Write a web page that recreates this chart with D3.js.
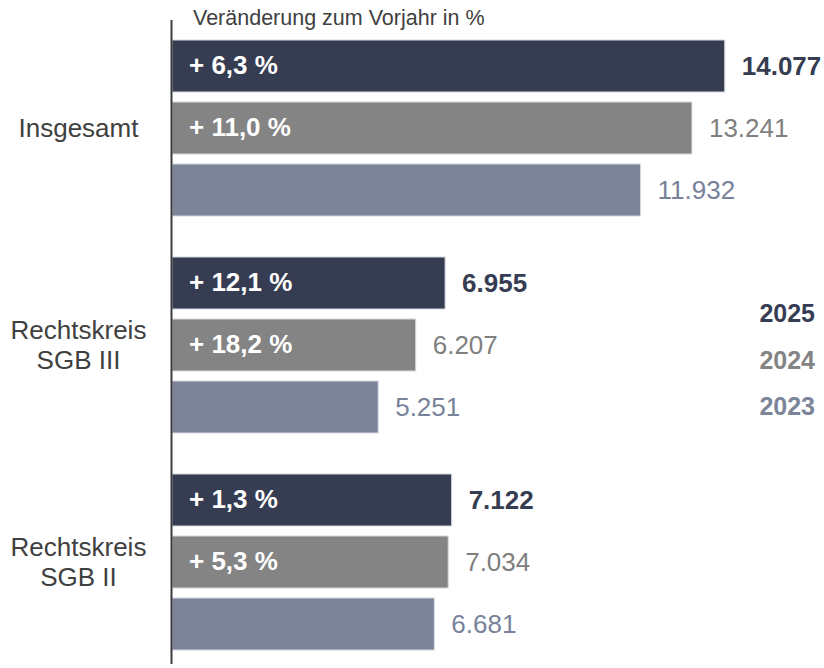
<!DOCTYPE html>
<html>
<head>
<meta charset="utf-8">
<script src="https://cdn.jsdelivr.net/npm/d3@7"></script>
<style>
  html, body { margin: 0; padding: 0; background: #ffffff; }
  svg { display: block; font-family: "Liberation Sans", Arial, sans-serif; }
</style>
</head>
<body>
<svg id="chart" width="824" height="668"></svg>
<script>
// ---- data ----
const categories = ["Insgesamt", "Rechtskreis SGB III", "Rechtskreis SGB II"];
const categoryLines = [["Insgesamt"], ["Rechtskreis", "SGB III"], ["Rechtskreis", "SGB II"]];
const years = ["2025", "2024", "2023"];
const values2025 = [14077, 6955, 7122];
const values2024 = [13241, 6207, 7034];
const values2023 = [11932, 5251, 6681];
const change2025 = ["+ 6,3 %", "+ 12,1 %", "+ 1,3 %"];
const change2024 = ["+ 11,0 %", "+ 18,2 %", "+ 5,3 %"];
const titleText = "Veränderung zum Vorjahr in %";

const seriesValues = { "2025": values2025, "2024": values2024, "2023": values2023 };
const seriesChange = { "2025": change2025, "2024": change2024, "2023": null };
const barColor = { "2025": "#363d52", "2024": "#848484", "2023": "#7b8498" };
const valueColor = { "2025": "#363d52", "2024": "#7f7f7f", "2023": "#78829a" };
const valueWeight = { "2025": "bold", "2024": "normal", "2023": "normal" };

const rows = [];
categories.forEach((c, i) => {
  years.forEach(y => {
    rows.push({ cat: c, year: y, value: seriesValues[y][i], change: seriesChange[y] ? seriesChange[y][i] : null });
  });
});

const de = d3.formatLocale({ decimal: ",", thousands: ".", grouping: [3], currency: ["", " €"] });
const fmt = de.format(",d");

const svg = d3.select("#chart");
const axisX = 171.5;

const x = d3.scaleLinear().domain([0, 15000]).range([172, 761]);
const yGroup = d3.scaleBand().domain(categories).range([40, 650]).paddingInner(41 / 217).paddingOuter(0);
const yInner = d3.scaleBand().domain(years).range([0, yGroup.bandwidth()]).paddingInner(10 / 62).paddingOuter(0);

// title
svg.append("text")
  .attr("x", 193).attr("y", 25)
  .attr("font-size", "21.5px").attr("fill", "#404040")
  .text(titleText);

// bars
const g = svg.append("g");
g.selectAll("rect.bar").data(rows).join("rect")
  .attr("class", "bar")
  .attr("x", x(0))
  .attr("y", d => yGroup(d.cat) + yInner(d.year))
  .attr("width", d => x(d.value) - x(0))
  .attr("height", yInner.bandwidth())
  .attr("fill", d => barColor[d.year])
  .attr("stroke", "#d6d9df").attr("stroke-width", 1);

// change labels inside bars
g.selectAll("text.chg").data(rows.filter(d => d.change)).join("text")
  .attr("class", "chg")
  .attr("x", 189)
  .attr("y", d => yGroup(d.cat) + yInner(d.year) + yInner.bandwidth() / 2)
  .attr("dy", "0.3em")
  .attr("font-size", "26px").attr("font-weight", "bold").attr("fill", "#ffffff")
  .text(d => d.change);

// value labels
g.selectAll("text.val").data(rows).join("text")
  .attr("class", "val")
  .attr("x", d => x(d.value) + 17)
  .attr("y", d => yGroup(d.cat) + yInner(d.year) + yInner.bandwidth() / 2)
  .attr("dy", "0.36em")
  .attr("font-size", "26px")
  .attr("font-weight", d => valueWeight[d.year])
  .attr("fill", d => valueColor[d.year])
  .text(d => fmt(d.value));

// category labels
categories.forEach((c, i) => {
  const lines = categoryLines[i];
  const cy = yGroup(c) + yGroup.bandwidth() / 2;
  const lh = 30;
  const t = svg.append("text")
    .attr("text-anchor", "middle")
    .attr("font-size", "26px").attr("fill", "#404040");
  lines.forEach((ln, j) => {
    t.append("tspan")
      .attr("x", 78.5)
      .attr("y", cy + (j - (lines.length - 1) / 2) * lh)
      .attr("dy", "0.36em")
      .text(ln);
  });
});

// axis line
svg.append("line")
  .attr("x1", axisX).attr("x2", axisX)
  .attr("y1", 20).attr("y2", 664)
  .attr("stroke", "#3c3c3c").attr("stroke-width", 2);

// legend
const legendY = d3.scalePoint().domain(years).range([313, 406]);
svg.selectAll("text.leg").data(years).join("text")
  .attr("class", "leg")
  .attr("x", 815)
  .attr("y", d => legendY(d))
  .attr("dy", "0.36em")
  .attr("text-anchor", "end")
  .attr("font-size", "25px").attr("font-weight", "bold")
  .attr("fill", d => barColor[d])
  .text(d => d);
</script>
</body>
</html>
